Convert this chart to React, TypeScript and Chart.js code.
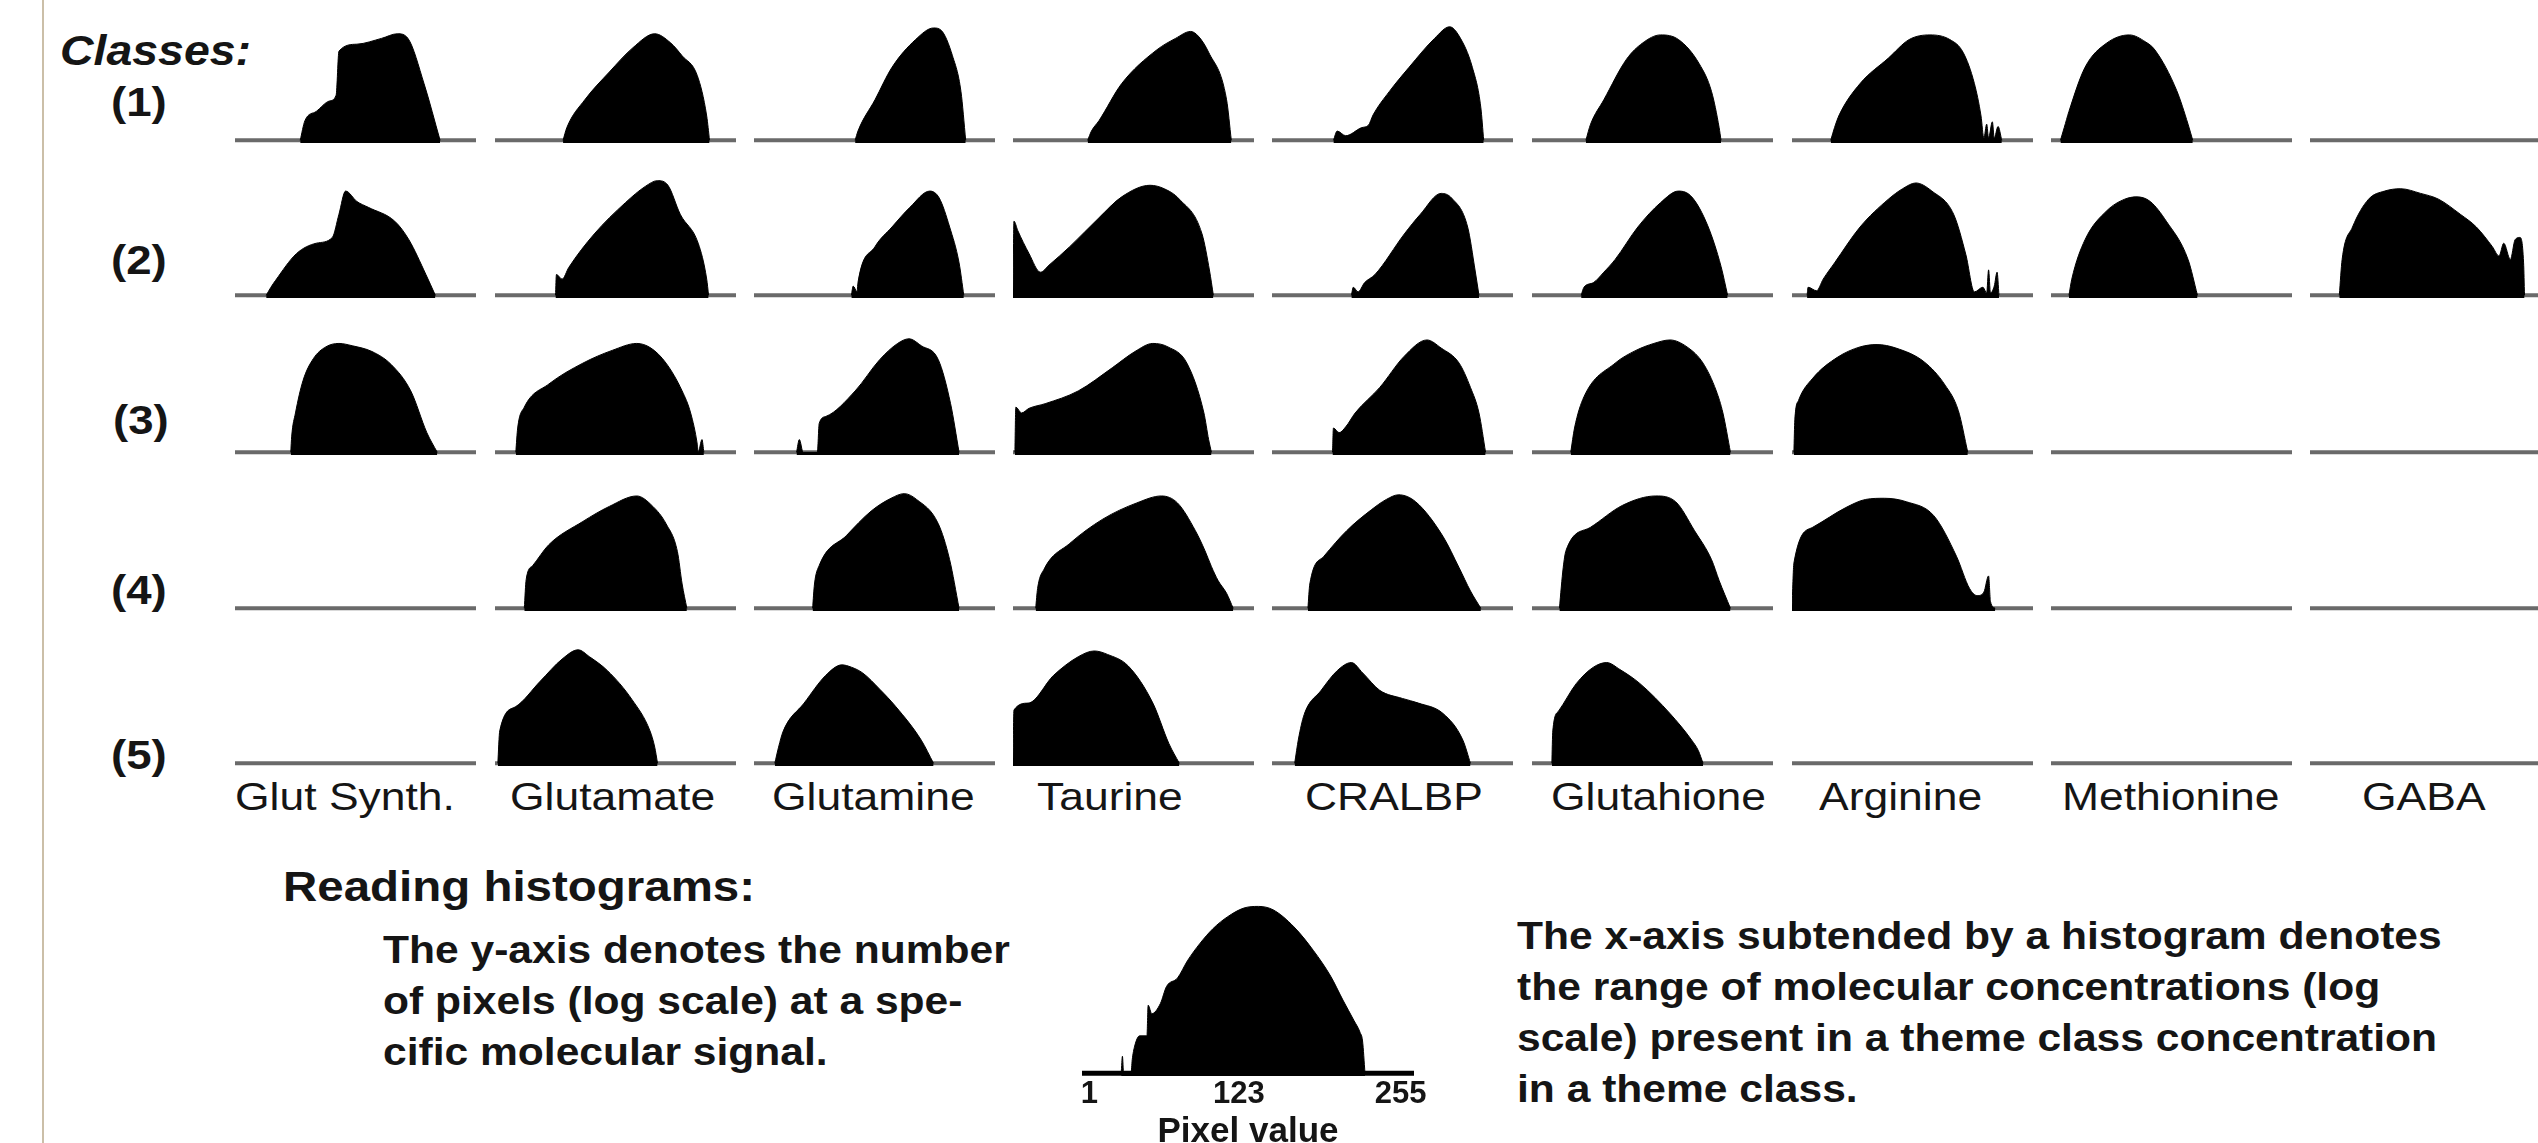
import React, { useEffect, useRef } from "react";
import { Chart, registerables } from "chart.js";

Chart.register(...registerables);

const FONT = '"Liberation Sans", Arial, Helvetica, sans-serif';
Chart.defaults.font.family = FONT;

// ---------------- DATA ----------------
const MOLECULES = ["Glut Synth.", "Glutamate", "Glutamine", "Taurine", "CRALBP", "Glutahione", "Arginine", "Methionine", "GABA"];
const CLASS_LABELS = ["(1)", "(2)", "(3)", "(4)", "(5)"];

// each histogram: [pixel value (0-255), log pixel count (0-100)]; null = no histogram
type Hist = number[][] | null;

const CLASS_1: Hist[] = [
  [[69,0],[74,17],[86,25],[100,34],[107,39],[110,77],[129,83],[155,88],[172,92],[183,88],[200,49],[217,0]],
  [[72,0],[76,11],[95,35],[121,59],[146,80],[169,92],[186,84],[198,73],[214,56],[224,21],[227,0]],
  [[107,0],[110,8],[128,35],[146,63],[171,87],[190,97],[198,95],[210,73],[219,42],[224,0]],
  [[79,0],[83,8],[91,17],[115,49],[152,78],[172,88],[188,94],[196,90],[207,76],[226,35],[231,0]],
  [[65,0],[69,8],[78,4],[95,11],[102,13],[107,22],[124,42],[145,63],[172,88],[188,98],[198,90],[212,63],[221,28],[224,0]],
  [[57,0],[62,14],[76,35],[100,70],[117,84],[136,91],[155,87],[177,66],[190,42],[198,11],[200,0]],
  [[41,0],[45,11],[50,22],[72,49],[102,71],[124,87],[146,91],[167,87],[181,76],[193,49],[200,21],[203,2],[206,14],[208,2],[212,16],[214,2],[218,12],[222,0]],
  [[10,0],[14,11],[19,25],[36,63],[59,84],[83,91],[100,85],[110,78],[133,43],[145,14],[150,0]],
  null,
];

const CLASS_2: Hist[] = [
  [[33,0],[38,7],[43,13],[65,36],[86,45],[103,50],[110,70],[117,90],[129,81],[141,76],[169,64],[184,48],[202,18],[212,0]],
  [[64,0],[65,18],[71,14],[78,24],[105,53],[138,80],[159,94],[172,99],[183,95],[196,70],[215,45],[224,14],[226,0]],
  [[103,0],[105,8],[109,3],[110,11],[128,42],[146,59],[165,76],[186,90],[196,84],[207,59],[217,28],[222,0]],
  [[0,0],[1,64],[5,56],[17,36],[29,20],[38,26],[60,42],[91,67],[115,85],[145,95],[160,92],[176,83],[200,53],[208,21],[212,0]],
  [[84,0],[86,7],[91,3],[98,11],[109,18],[140,53],[157,70],[179,88],[190,84],[207,59],[215,21],[219,0]],
  [[52,0],[55,7],[65,11],[76,20],[88,31],[112,59],[136,80],[155,90],[169,85],[186,60],[200,25],[207,0]],
  [[16,0],[17,7],[26,4],[33,14],[45,28],[72,59],[102,83],[117,92],[131,97],[148,90],[171,70],[184,35],[193,3],[202,7],[206,2],[208,22],[210,2],[214,8],[217,20],[219,0]],
  [[19,0],[22,14],[36,48],[59,73],[78,83],[91,85],[105,81],[122,64],[145,31],[155,0]],
  [[31,0],[34,31],[45,59],[62,83],[79,90],[96,92],[117,88],[136,83],[159,70],[176,59],[193,42],[200,34],[205,45],[212,31],[217,48],[222,50],[226,28],[227,0]],
];

const CLASS_3: Hist[] = [
  [[59,0],[60,14],[64,34],[72,62],[83,81],[96,91],[110,94],[124,92],[145,87],[165,76],[186,53],[203,17],[214,0]],
  [[22,0],[24,21],[31,39],[57,59],[93,77],[124,88],[150,94],[165,90],[181,77],[198,53],[207,34],[214,7],[215,0],[219,11],[221,0]],
  [[45,0],[48,11],[52,0],[67,0],[69,25],[76,31],[107,53],[133,80],[152,94],[164,98],[177,92],[195,80],[208,42],[217,0]],
  [[2,0],[3,39],[9,34],[17,38],[34,42],[69,53],[105,73],[129,87],[148,94],[164,91],[184,77],[202,34],[207,11],[210,0]],
  [[64,0],[65,21],[71,17],[78,22],[88,34],[114,56],[140,83],[164,97],[179,90],[198,77],[210,56],[219,34],[226,0]],
  [[41,0],[45,21],[55,48],[88,77],[110,88],[129,94],[146,97],[164,91],[181,77],[195,53],[202,34],[210,0]],
  [[2,0],[3,28],[7,45],[22,64],[48,82],[72,91],[90,93],[110,90],[140,78],[162,58],[176,36],[186,0]],
  null,
  null,
];

const CLASS_4: Hist[] = [
  null,
  [[31,0],[33,25],[40,37],[57,55],[93,75],[121,88],[150,97],[167,88],[181,73],[193,49],[198,21],[203,0]],
  [[62,0],[64,21],[69,37],[98,63],[124,84],[145,95],[159,99],[172,94],[195,73],[207,42],[217,0]],
  [[24,0],[26,17],[33,34],[60,56],[95,77],[131,91],[157,97],[174,91],[193,67],[203,50],[210,36],[217,24],[226,13],[233,0]],
  [[38,0],[40,21],[55,45],[79,67],[105,85],[121,94],[134,98],[152,92],[181,62],[198,35],[210,15],[221,0]],
  [[29,0],[33,35],[36,50],[62,70],[96,89],[131,97],[152,92],[172,67],[190,42],[198,24],[210,0]],
  [[0,0],[2,39],[22,70],[57,87],[78,94],[98,95],[121,92],[150,80],[174,45],[188,17],[196,11],[203,14],[208,28],[210,6],[215,0]],
  null,
  null,
];

const CLASS_5: Hist[] = [
  null,
  [[3,0],[5,28],[22,49],[48,71],[71,90],[88,98],[100,92],[119,80],[145,55],[164,28],[169,14],[172,0]],
  [[22,0],[26,14],[31,28],[53,52],[76,76],[93,85],[103,83],[115,78],[133,64],[150,49],[177,20],[190,0]],
  [[0,0],[1,46],[16,52],[43,76],[69,92],[86,97],[100,94],[122,84],[148,52],[165,17],[176,0]],
  [[24,0],[28,21],[34,42],[52,63],[69,80],[84,87],[96,78],[114,63],[138,56],[155,52],[181,43],[202,20],[210,0]],
  [[21,0],[22,28],[28,45],[47,69],[65,83],[79,87],[93,81],[114,69],[146,43],[169,20],[176,11],[181,0]],
  null,
  null,
  null,
];

const CLASSES: Hist[][] = [CLASS_1, CLASS_2, CLASS_3, CLASS_4, CLASS_5];

// example histogram ("Reading histograms")
const EXAMPLE_X = [27, 28, 29, 35, 36, 38, 42, 48, 49, 52, 59, 64, 73, 81, 91, 102, 114, 127, 139, 151, 168, 184, 198, 208, 217, 222, 224, 226];
const EXAMPLE_Y = [0, 10, 0, 0, 8, 16, 22, 22, 40, 35, 41, 51, 56, 66, 76, 85, 92, 97, 98, 96, 86, 72, 57, 43, 31, 24, 19, 0];
const EXAMPLE_TICKS = [1, 123, 255];

const HEADING = "Classes:";
const READING_TITLE = "Reading histograms:";
const Y_TEXT = ["The y-axis denotes the number", "of pixels (log scale) at a spe-", "cific molecular signal."];
const X_TEXT = [
  "The x-axis subtended by a histogram denotes",
  "the range of molecular concentrations (log",
  "scale) present in a theme class concentration",
  "in a theme class.",
];

// ---------------- LAYOUT ----------------
const PAGE_W = 2538;
const PAGE_H = 1143;
const COL_LEFT = [235, 495, 754, 1013, 1272, 1532, 1792, 2051, 2310];
const ROW_BASE = [140, 295, 452, 608, 763];
const PANEL_W = 241;
const PANEL_H = 124;
const PANEL_ABOVE = 119;
const LABEL_LEFT = [235, 510, 772, 1037, 1305, 1551, 1819, 2062, 2362];
const ROW_LABEL_LEFT = [111, 111, 113, 111, 111];
const ROW_LABEL_BASE = [116, 274, 434, 604, 769];
const TEXT_COLOR = "#151515";

function Panel({ hist, left, base }: { hist: Hist; left: number; base: number }) {
  const ref = useRef<HTMLCanvasElement>(null);
  useEffect(() => {
    const datasets: any[] = [];
    if (hist) {
      datasets.push({
        data: hist.map(([x, y]) => ({ x, y })),
        borderColor: "#000",
        backgroundColor: "#000",
        borderWidth: 1,
        fill: { value: -2.2 },
        pointRadius: 0,
        cubicInterpolationMode: "monotone",
      });
    }
    datasets.push({
      data: [{ x: 0, y: 0 }, { x: 255, y: 0 }],
      borderColor: "#6a6a6a",
      borderWidth: 4,
      pointRadius: 0,
      fill: false,
    });
    const chart = new Chart(ref.current as HTMLCanvasElement, {
      type: "line",
      data: { datasets },
      options: {
        animation: false,
        responsive: false,
        devicePixelRatio: 1,
        layout: { padding: 0 },
        plugins: { legend: { display: false }, tooltip: { enabled: false } },
        scales: {
          x: { type: "linear", min: 0, max: 255, display: false },
          y: { type: "linear", min: -4, max: 103, display: false },
        },
      } as any,
    });
    return () => chart.destroy();
  }, [hist]);
  return (
    <canvas
      ref={ref}
      width={PANEL_W}
      height={PANEL_H}
      style={{ position: "absolute", left, top: base - PANEL_ABOVE, width: PANEL_W, height: PANEL_H }}
    />
  );
}

function ExampleChart() {
  const ref = useRef<HTMLCanvasElement>(null);
  useEffect(() => {
    const chart = new Chart(ref.current as HTMLCanvasElement, {
      type: "line",
      data: {
        datasets: [
          {
            data: EXAMPLE_X.map((x, i) => ({ x, y: EXAMPLE_Y[i] })),
            borderColor: "#000",
            backgroundColor: "#000",
            borderWidth: 1,
            fill: { value: -1.5 },
            pointRadius: 0,
            cubicInterpolationMode: "monotone",
          },
          {
            data: [{ x: -5, y: 0 }, { x: 266, y: 0 }],
            borderColor: "#000",
            borderWidth: 5,
            pointRadius: 0,
            fill: false,
          },
        ],
      },
      options: {
        animation: false,
        responsive: false,
        devicePixelRatio: 1,
        layout: { padding: { left: 30, right: 30, top: 0, bottom: 0 } },
        plugins: { legend: { display: false }, tooltip: { enabled: false } },
        scales: {
          x: {
            type: "linear",
            min: -5,
            max: 266,
            grid: { display: false, drawTicks: false, tickLength: 0 },
            border: { display: false },
            afterBuildTicks: (scale: any) => {
              scale.ticks = EXAMPLE_TICKS.map((v) => ({ value: v }));
            },
            ticks: {
              color: TEXT_COLOR,
              font: { family: FONT, size: 31, weight: "bold", lineHeight: 1.05 },
              padding: 0,
              maxRotation: 0,
              autoSkip: false,
              callback: (v: any) => String(v),
            },
            title: {
              display: true,
              text: "Pixel value",
              color: TEXT_COLOR,
              font: { family: FONT, size: 35, weight: "bold" },
              padding: { top: 0, bottom: 8 },
            },
          },
          y: { type: "linear", min: -3, max: 100, display: false },
        },
      } as any,
    });
    return () => chart.destroy();
  }, []);
  return (
    <canvas
      ref={ref}
      width={392}
      height={258}
      style={{ position: "absolute", left: 1052, top: 903, width: 392, height: 258 }}
    />
  );
}

function Txt({
  x, base, size, bold = false, italic = false, sx = 1, lines, lh,
}: {
  x: number; base: number; size: number; bold?: boolean; italic?: boolean; sx?: number; lines: string[]; lh?: number;
}) {
  const L = lh ?? size;
  const top = base - ((L - 1.117 * size) / 2 + 0.905 * size);
  return (
    <div
      style={{
        position: "absolute",
        left: x,
        top,
        fontFamily: FONT,
        fontSize: size,
        fontWeight: bold ? 700 : 400,
        fontStyle: italic ? "italic" : "normal",
        lineHeight: `${L}px`,
        whiteSpace: "pre",
        color: TEXT_COLOR,
        transform: `scaleX(${sx})`,
        transformOrigin: "0 0",
        margin: 0,
      }}
    >
      {lines.join("\n")}
    </div>
  );
}

export default function App() {
  return (
    <div
      style={{
        position: "absolute",
        left: 0,
        top: 0,
        width: PAGE_W,
        height: PAGE_H,
        overflow: "hidden",
        background: "#ffffff",
      }}
    >
      <div style={{ position: "absolute", left: 42, top: 0, width: 2, height: PAGE_H, background: "#cbbfa8" }} />
      <Txt x={60} base={65} size={43} bold italic sx={1.08} lines={[HEADING]} />
      {CLASS_LABELS.map((lab, r) => (
        <Txt key={lab} x={ROW_LABEL_LEFT[r]} base={ROW_LABEL_BASE[r]} size={40} bold sx={1.14} lines={[lab]} />
      ))}
      {CLASSES.map((row, r) =>
        row.map((hist, c) => (
          <Panel key={`${r}-${c}`} hist={hist} left={COL_LEFT[c]} base={ROW_BASE[r]} />
        ))
      )}
      {MOLECULES.map((m, c) => (
        <Txt key={m} x={LABEL_LEFT[c]} base={810} size={39} sx={1.14} lines={[m]} />
      ))}
      <Txt x={283} base={902} size={42} bold sx={1.13} lines={[READING_TITLE]} />
      <Txt x={383} base={964} size={38} bold sx={1.12} lh={51} lines={Y_TEXT} />
      <Txt x={1517} base={950} size={38} bold sx={1.12} lh={51} lines={X_TEXT} />
      <ExampleChart />
    </div>
  );
}
